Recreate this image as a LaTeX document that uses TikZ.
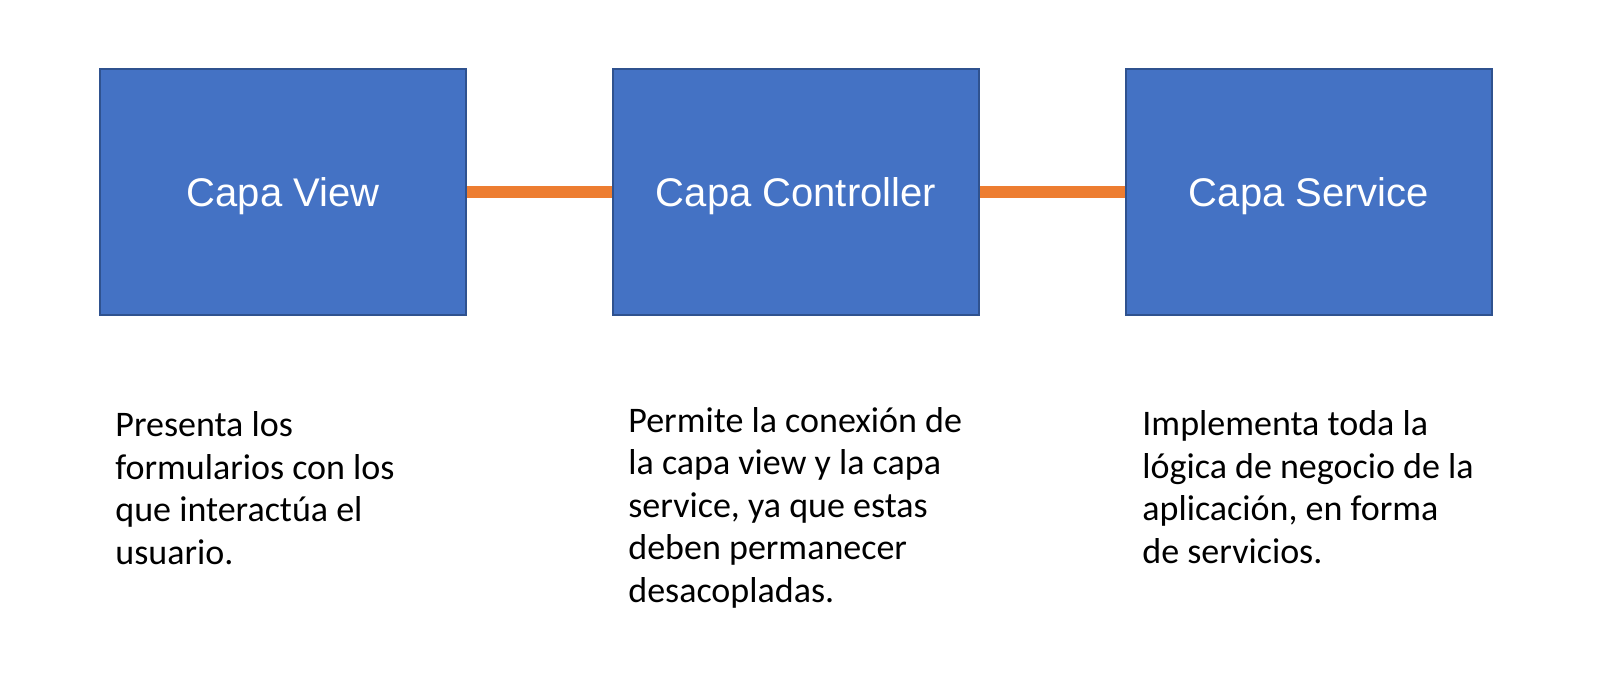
\documentclass[tikz,border=0pt]{standalone}
\usepackage{fontspec}
\setmainfont{Carlito}
\newfontfamily\arialfont{Liberation Sans}
\usetikzlibrary{positioning}

\definecolor{capablue}{HTML}{4472C4}
\definecolor{capaborder}{HTML}{2F528F}
\definecolor{linkorange}{HTML}{ED7D31}

\tikzset{
    capa/.style={draw=capaborder, line width=1pt, fill=capablue, text=white,
        minimum width=183pt, minimum height=123pt, inner sep=0pt,
        text height=14.3pt, text depth=0pt,
        font=\arialfont\fontsize{20}{24}\selectfont},
    desc/.style={anchor=base west, align=left, inner sep=0pt,
        font=\fontsize{18}{21.25}\selectfont},
    link/.style={draw=linkorange, line width=6pt}
}

\begin{document}
\begin{tikzpicture}[x=0.5pt, y=-0.5pt]
    \useasboundingbox (0,0) rectangle (1609,687);

    % capas
    \node[capa] (capaview) at (283,192) {Capa View};
    \node[capa] (capacontroller) at (796,192) {Capa Controller};
    \node[capa] (capaservice) at (1309,192) {Capa Service};

    \draw[link] (capaview.east) -- (capacontroller.west);
    \draw[link] (capacontroller.east) -- (capaservice.west);

    % descripciones (base = ultima linea)
    \node[desc] (descview) at (115,564)
        {Presenta los\\formularios con los\\que interactúa el\\usuario.};
    \node[desc] (desccontroller) at (628,602)
        {Permite la conexión de\\la capa view y la capa\\service, ya que estas\\deben permanecer\\desacopladas.};
    \node[desc] (descservice) at (1142,563)
        {Implementa toda la\\lógica de negocio de la\\aplicación, en forma\\de servicios.};
\end{tikzpicture}
\end{document}
